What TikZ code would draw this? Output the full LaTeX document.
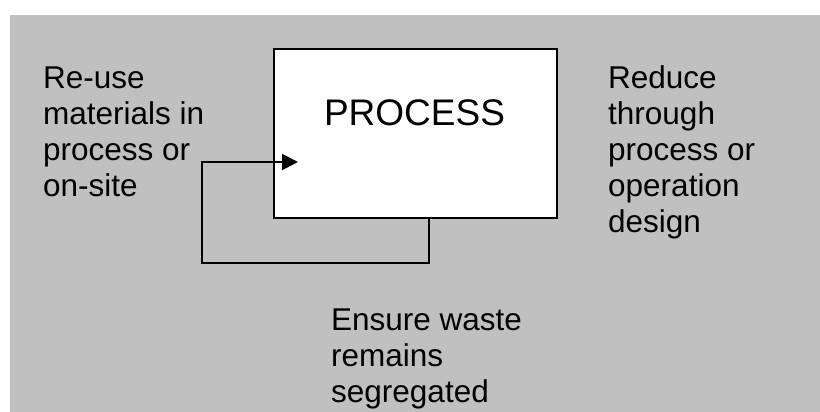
\documentclass[tikz,border=0pt]{standalone}
\usepackage{fontspec}
\setmainfont{Liberation Sans}
\usetikzlibrary{arrows.meta}
\definecolor{bggray}{HTML}{C0C0C0}
\begin{document}
\begin{tikzpicture}[x=1pt,y=-1pt,
  lbl/.style={anchor=base west,inner sep=0pt,align=left,font=\fontsize{31.5}{36}\selectfont},
  boxline/.style={line width=1.8pt},
  conn/.style={line width=1.8pt,-{Triangle[length=16pt,width=16pt]}}]
\useasboundingbox (0,0) rectangle (820,412);
\fill[bggray] (10,15) rectangle (820,412);
\node[boxline,draw=black,fill=white,minimum width=283pt,minimum height=169pt,inner sep=0pt,anchor=north west] (proc) at (273,48) {};
\node[anchor=base,inner sep=0pt,font=\fontsize{37}{44}\selectfont] (ptxt) at (414.5,125) {PROCESS};
% anchor base = baseline of last line for multi-line nodes
\node[lbl] (reuse) at (43,196) {Re-use\\materials in\\process or\\on-site};
\node[lbl] (reduce) at (608,232) {Reduce\\through\\process or\\operation\\design};
\node[lbl] (ensure) at (331,402) {Ensure waste\\remains\\segregated};
\coordinate (c1) at (429,263);
\coordinate (c2) at (202,263);
\coordinate (c3) at (202,162);
\coordinate (tip) at (298,162);
\draw[conn] (proc.south west -| c1) -- (c1) -- (c2) -- (c3) -- (tip);
\end{tikzpicture}
\end{document}
